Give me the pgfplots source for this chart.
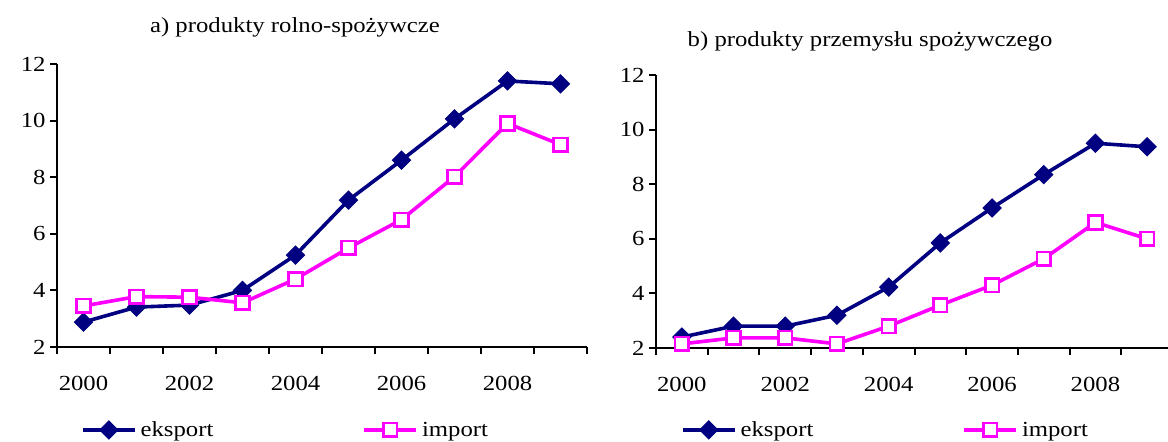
\documentclass[border=0pt]{standalone}
\usepackage{fontspec}
\setmainfont[FakeStretch=1.15]{Liberation Serif}
\usepackage{pgfplots}
\pgfplotsset{compat=1.18}

\definecolor{eksp}{RGB}{0,0,128}
\definecolor{imp}{RGB}{255,0,255}
\newcommand\cf{\fontsize{21.5bp}{25bp}\selectfont}

\pgfplotsset{
  panel/.style={
    scale only axis,
    clip=false,
    axis x line*=bottom, axis y line*=left,
    axis line style={black, line width=2.2bp, -},
    xmin=1999.5, xmax=2009.5, ymin=2, ymax=12,
    ytick={2,4,...,12},
    xtick={1999.5,2000.5,...,2009.5}, xticklabels={},
    extra x ticks={2000,2002,2004,2006,2008},
    extra x tick labels={2000,2002,2004,2006,2008},
    extra x tick style={major tick length=0pt,
      xticklabel style={yshift=-26bp}},
    tick align=outside, major tick length=7bp,
    tick style={black, line width=2bp},
    /pgf/number format/assume math mode=true,
    tick label style={font=\cf},
    yticklabel style={xshift=-1bp},
    legend columns=2,
    legend cell align=left,
    legend image code/.code={\draw[mark repeat=2, mark phase=2, #1]
      plot coordinates {(0bp,0bp) (26bp,0bp) (52bp,0bp)};},
    legend style={draw=none, fill=none, inner sep=0pt, anchor=west,
      font=\cf, nodes={inner xsep=4bp, inner ysep=0pt},
      /tikz/every even column/.append style={column sep=145bp}},
  },
  eks/.style={color=eksp, line width=3.6bp, mark=square*, mark size=6.4bp,
    mark options={rotate=45, fill=eksp, line width=1bp}},
  imp/.style={color=imp, line width=3.6bp, mark=square*, mark size=6.8bp,
    mark options={fill=white, line width=2.6bp}},
}

\begin{document}
\begin{tikzpicture}[font=\cf]
\path[use as bounding box] (0,0) rectangle (1168bp,442bp);

% a) agri-food products
\begin{axis}[panel, at={(57bp,95bp)}, anchor=south west,
    width=530bp, height=283bp,
    title={a) produkty rolno-spożywcze},
    title style={at={(0.449,1.108)}, anchor=center, font=\cf},
    legend style={at={(0.045,-0.293)}}]
\addplot[eks] coordinates {(2000,2.88) (2001,3.41) (2002,3.48) (2003,4.0)
  (2004,5.25) (2005,7.19) (2006,8.6) (2007,10.06) (2008,11.4) (2009,11.3)};
\addlegendentry{eksport}
\addplot[imp] coordinates {(2000,3.45) (2001,3.78) (2002,3.76) (2003,3.56)
  (2004,4.4) (2005,5.5) (2006,6.5) (2007,8.02) (2008,9.9) (2009,9.15)};
\addlegendentry{import}
\end{axis}

% b) food industry products
\begin{axis}[panel, at={(656bp,94bp)}, anchor=south west,
    width=517bp, height=273bp,
    title={b) produkty przemysłu spożywczego},
    title style={at={(0.414,1.102)}, anchor=center, font=\cf},
    legend style={at={(0.048,-0.300)}}]
\addplot[eks] coordinates {(2000,2.4) (2001,2.8) (2002,2.8) (2003,3.2)
  (2004,4.23) (2005,5.85) (2006,7.13) (2007,8.35) (2008,9.5) (2009,9.37)};
\addlegendentry{eksport}
\addplot[imp] coordinates {(2000,2.15) (2001,2.37) (2002,2.37) (2003,2.15)
  (2004,2.8) (2005,3.57) (2006,4.3) (2007,5.27) (2008,6.6) (2009,6.0)};
\addlegendentry{import}
\end{axis}
\end{tikzpicture}
\end{document}
